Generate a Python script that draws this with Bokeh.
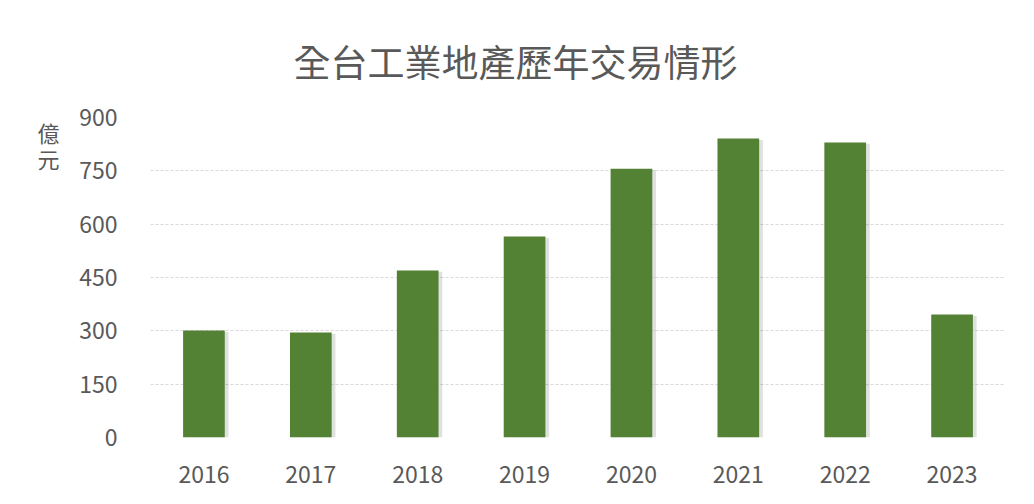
from bokeh.plotting import figure
from bokeh.models import SingleIntervalTicker, Label, Range1d
from bokeh.layouts import row
from bokeh.transform import dodge
from bokeh.embed import file_html
from bokeh.resources import INLINE

years = ["2016", "2017", "2018", "2019", "2020", "2021", "2022", "2023"]
values = [301, 295, 470, 565, 756, 841, 830, 346]
title_text = "全台工業地產歷年交易情形"
unit_text = ["億", "元"]

GRAY = "#595959"
FONT = "Noto Sans CJK TC"

# narrow side panel holding the stacked unit label (same top/bottom borders as the chart)
side = figure(width=60, height=488, output_backend="svg", toolbar_location=None,
              x_axis_type=None, y_axis_type=None, x_range=Range1d(0, 60), y_range=Range1d(437, 117),
              min_border_left=0, min_border_right=0, min_border_top=117, min_border_bottom=51)
side.outline_line_color = None
side.grid.grid_line_color = None
for ch, yy in zip(unit_text, [131, 157]):
    side.add_layout(Label(x=48, y=yy, text=ch, text_font=FONT, text_font_size="22px",
                          text_color=GRAY, text_align="center", text_baseline="middle"))

p = figure(x_range=years, y_range=(0, 900), width=958, height=488,
           output_backend="svg", toolbar_location=None, title=title_text,
           min_border_left=90, min_border_right=13, min_border_top=117, min_border_bottom=51)
p.outline_line_color = None
p.x_range.range_padding = 0

p.title.align = "left"
p.title.text_font = FONT
p.title.text_font_size = "37px"
p.title.text_font_style = "normal"
p.title.text_color = GRAY
p.title.offset = 143
p.title.standoff = 60

# shadow
p.vbar(x=dodge("x", 0.035, range=p.x_range), top="top", width=0.39, bottom=0,
       source=dict(x=years, top=[v - 4 for v in values]),
       fill_color="#000000", fill_alpha=0.12, line_color=None)
p.vbar(x=years, top=values, width=0.39, fill_color="#548235", line_color=None)

p.yaxis.ticker = SingleIntervalTicker(interval=150)
p.ygrid.ticker = SingleIntervalTicker(interval=150)
p.ygrid.grid_line_color = "#d9d9d9"
p.ygrid.grid_line_dash = "3 2"
p.xgrid.grid_line_color = None

for ax in (p.xaxis, p.yaxis):
    ax.axis_line_color = None
    ax.major_tick_line_color = None
    ax.minor_tick_line_color = None
    ax.major_label_text_font = FONT
    ax.major_label_text_font_size = "23px"
    ax.major_label_text_color = GRAY
p.yaxis.major_label_standoff = 27
p.xaxis.major_label_standoff = 22

layout = row(side, p, spacing=0)
open("out.html", "w").write(file_html(layout, INLINE))
